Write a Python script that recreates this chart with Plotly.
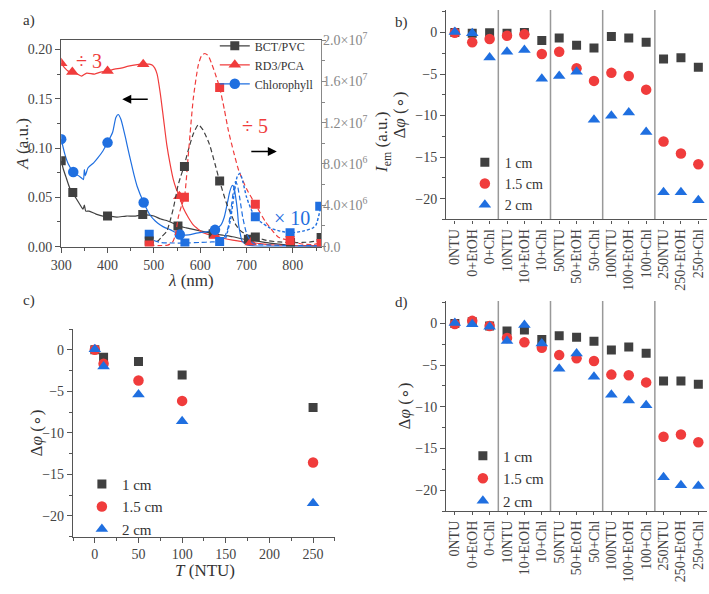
import plotly.graph_objects as go

W, H = 709, 594
FONT = "Liberation Serif, Times New Roman, serif"
GRAY, RED, BLUE = "#404040", "#f03c3c", "#1f6fe0"

# ---------------- Panel a data ----------------
bct_abs_nm = [300, 305, 310, 318, 325, 332, 340, 347, 350, 353, 360, 375, 390, 400, 420, 440, 460, 476, 490, 500, 515, 530, 545, 552, 570, 590, 610, 630, 650, 670, 690, 710, 730, 750, 770, 790, 810, 830, 850, 861]
bct_abs = [0.087, 0.078, 0.071, 0.060, 0.055, 0.049, 0.043, 0.038, 0.042, 0.036, 0.036, 0.033, 0.031, 0.031, 0.030, 0.031, 0.031, 0.0325, 0.032, 0.031, 0.028, 0.026, 0.023, 0.021, 0.019, 0.017, 0.015, 0.013, 0.0115, 0.010, 0.008, 0.0065, 0.005, 0.0035, 0.0025, 0.0015, 0.001, 0.0005, 0.0003, 0.0003]
bct_abs_mk_nm = [300, 325, 400, 476, 552, 628, 704]
bct_abs_mk = [0.087, 0.055, 0.031, 0.0325, 0.021, 0.013, 0.0075]

rd3_abs_nm = [300, 308, 315, 324, 335, 344, 355, 372, 385, 400, 415, 429, 445, 457, 477, 490, 497, 502, 507, 514, 521, 528, 535, 542, 548, 555, 564, 575, 585, 596, 606, 620, 632, 650, 670, 690, 709, 730, 748, 770, 791, 820, 861]
rd3_abs = [0.186, 0.181, 0.178, 0.177, 0.175, 0.173, 0.176, 0.175, 0.177, 0.178, 0.180, 0.181, 0.183, 0.184, 0.185, 0.185, 0.184, 0.181, 0.175, 0.155, 0.129, 0.103, 0.084, 0.068, 0.059, 0.051, 0.0386, 0.029, 0.022, 0.0175, 0.014, 0.012, 0.0108, 0.0085, 0.0065, 0.005, 0.0042, 0.003, 0.002, 0.0015, 0.001, 0.001, 0.001]
rd3_abs_mk_nm = [300, 324, 400, 477, 555, 632, 709]
rd3_abs_mk = [0.186, 0.177, 0.178, 0.185, 0.051, 0.0108, 0.0042]

chl_abs_nm = [300, 308, 315, 326, 337, 345, 348, 350, 352, 358, 370, 379, 390, 400, 411, 418, 423, 429, 434, 439, 445, 450, 457, 464, 478, 492, 503, 514, 525, 535, 556, 575, 592, 613, 632, 645, 652, 659, 664, 669, 673, 676, 680, 683, 687, 690, 700, 720, 760, 800, 861]
chl_abs = [0.109, 0.0935, 0.084, 0.0757, 0.072, 0.069, 0.068, 0.078, 0.072, 0.080, 0.085, 0.090, 0.097, 0.1055, 0.116, 0.131, 0.134, 0.129, 0.120, 0.110, 0.097, 0.087, 0.073, 0.061, 0.0448, 0.0318, 0.026, 0.022, 0.019, 0.0172, 0.0123, 0.0118, 0.0137, 0.015, 0.017, 0.022, 0.030, 0.045, 0.056, 0.062, 0.060, 0.052, 0.038, 0.022, 0.012, 0.006, 0.002, 0.0005, 0.0003, 0.0003, 0.0003]
chl_abs_mk_nm = [300, 326, 400, 478, 556, 632]
chl_abs_mk = [0.109, 0.0757, 0.1055, 0.0448, 0.0123, 0.017]

bct_em_nm = [490, 500, 510, 518, 528, 535, 542, 548, 552, 558, 565, 574, 585, 596, 606, 620, 632, 642, 656, 666, 677, 688, 698, 710, 719, 735, 748, 770, 795, 820, 845, 861]
bct_em = [0.55e6, 0.4e6, 0.6e6, 1.0e6, 1.5e6, 2.5e6, 3.7e6, 5.0e6, 5.9e6, 6.8e6, 7.75e6, 9.3e6, 10.9e6, 11.8e6, 11.3e6, 9.9e6, 8.0e6, 6.35e6, 4.3e6, 3.2e6, 2.1e6, 1.5e6, 1.2e6, 1.0e6, 0.94e6, 0.7e6, 0.56e6, 0.45e6, 0.4e6, 0.4e6, 0.5e6, 0.875e6]
bct_em_mk_nm = [490, 566, 642, 719, 795, 861]
bct_em_mk = [0.55e6, 7.75e6, 6.35e6, 0.94e6, 0.4e6, 0.875e6]

rd3_em_nm = [490, 510, 530, 540, 546, 553, 560, 566, 574, 585, 596, 603, 610, 617, 624, 632, 642, 652, 661, 672, 683, 700, 719, 741, 755, 769, 794, 819, 840, 861]
rd3_em = [0.15e6, 0.1e6, 0.15e6, 0.4e6, 1.06e6, 2.9e6, 4.0e6, 4.78e6, 8.7e6, 14.3e6, 17.6e6, 18.5e6, 18.7e6, 18.5e6, 17.8e6, 16.8e6, 15.4e6, 13.3e6, 11.2e6, 9.2e6, 7.4e6, 5.6e6, 4.1e6, 2.4e6, 1.6e6, 0.9e6, 0.56e6, 0.25e6, 0.2e6, 0.31e6]
rd3_em_mk_nm = [490, 566, 642, 719, 794, 861]
rd3_em_mk = [0.15e6, 4.78e6, 15.4e6, 4.1e6, 0.6e6, 0.31e6]

chl_em_nm = [490, 500, 515, 540, 567, 600, 625, 642, 652, 660, 667, 672, 676, 680, 685, 692, 700, 708, 715, 725, 750, 800, 861]
chl_em = [1.2e6, 0.6e6, 0.4e6, 0.35e6, 0.35e6, 0.4e6, 0.45e6, 0.5e6, 0.9e6, 1.8e6, 3.8e6, 5.5e6, 6.3e6, 6.0e6, 4.8e6, 2.8e6, 1.3e6, 0.6e6, 0.3e6, 0.2e6, 0.15e6, 0.1e6, 0.1e6]
chl_em_mk_nm = [490, 567, 642]
chl_em_mk = [1.2e6, 0.35e6, 0.5e6]

chl_em10_nm = [655, 665, 673, 680, 686, 692, 700, 710, 719, 730, 751, 773, 794, 822, 843, 850, 857, 861]
chl_em10 = [0.8e6, 2.5e6, 5.0e6, 6.8e6, 7.1e6, 6.3e6, 4.8e6, 3.6e6, 2.9e6, 2.4e6, 1.8e6, 1.5e6, 1.34e6, 1.5e6, 1.8e6, 2.1e6, 3.2e6, 4.0e6]
chl_em10_mk_nm = [719, 794, 858]
chl_em10_mk = [2.9e6, 1.34e6, 3.9e6]

nm_ticks = [300, 400, 500, 600, 700, 800]
em_tickvals = [0, 4e6, 8e6, 1.2e7, 1.6e7, 2.0e7]
em_ticktext = ["0.0", "4.0×10<sup>6</sup>", "8.0×10<sup>6</sup>", "1.2×10<sup>7</sup>", "1.6×10<sup>7</sup>", "2.0×10<sup>7</sup>"]

# ---------------- Panels b, d data ----------------
categories = ["0NTU", "0+EtOH", "0+Chl", "10NTU", "10+EtOH", "10+Chl", "50NTU", "50+EtOH", "50+Chl",
              "100NTU", "100+EtOH", "100+Chl", "250NTU", "250+EtOH", "250+Chl"]
b_1cm = [0, -0.1, -0.05, -0.1, 0, -0.97, -0.66, -1.55, -1.86, -0.5, -0.66, -1.17, -3.19, -3.03, -4.2]
b_15cm = [-0.05, -1.17, -0.78, -0.39, -0.23, -2.6, -2.33, -4.31, -5.83, -4.86, -5.24, -6.88, -13.13, -14.57, -15.85]
b_2cm = [0.05, -0.1, -3.0, -2.33, -2.1, -5.56, -5.24, -4.74, -10.49, -10.02, -9.63, -11.97, -19.23, -19.23, -20.2]

d_1cm = [0, 0.2, -0.3, -0.9, -0.78, -1.94, -1.48, -1.67, -2.14, -3.18, -2.83, -3.57, -6.91, -6.91, -7.3]
d_15cm = [-0.08, 0.31, -0.3, -1.75, -2.25, -2.91, -3.8, -4.19, -4.5, -6.14, -6.21, -7.07, -13.6, -13.32, -14.25]
d_2cm = [0.05, -0.1, -0.4, -2.1, -0.2, -2.4, -5.44, -3.6, -6.4, -8.54, -9.24, -9.8, -18.45, -19.4, -19.5]

# ---------------- Panel c data ----------------
turbidity = [0, 10, 50, 100, 250]
c_1cm = [0, -0.9, -1.4, -3.04, -6.94]
c_15cm = [0, -1.68, -3.7, -6.16, -13.57]
c_2cm = [0.05, -2.0, -5.4, -8.6, -18.5]

series_names = ["1 cm", "1.5 cm", "2 cm"]
series_colors = [GRAY, RED, BLUE]
series_symbols = ["square", "circle", "triangle-up"]
series_sizes = [9, 10.5, 11]

def px(X):
    return X / W

def py(Y):
    return 1 - Y / H

fig = go.Figure()

# ---- Panel a traces ----
def line(x, y, color, yaxis="y", dash="solid", width=1.2):
    fig.add_trace(go.Scatter(x=x, y=y, mode="lines", xaxis="x", yaxis=yaxis, showlegend=False,
                             line=dict(color=color, width=width, dash=dash, shape="spline", smoothing=0.6),
                             hoverinfo="skip"))

def marks(x, y, color, symbol, size, yaxis="y"):
    fig.add_trace(go.Scatter(x=x, y=y, mode="markers", xaxis="x", yaxis=yaxis, showlegend=False,
                             marker=dict(color=color, symbol=symbol, size=size, line=dict(width=0)),
                             hoverinfo="skip"))

line(bct_em_nm, bct_em, GRAY, "y2", "5px,3px")
line(rd3_em_nm, rd3_em, RED, "y2", "5px,3px")
line(chl_em_nm, chl_em, BLUE, "y2", "5px,3px")
line(chl_em10_nm, chl_em10, BLUE, "y2", "3px,2px", 1.4)
line(bct_abs_nm, bct_abs, GRAY)
line(rd3_abs_nm, rd3_abs, RED)
line(chl_abs_nm, chl_abs, BLUE)
marks(chl_em_mk_nm, chl_em_mk, BLUE, "square", 9, "y2")
marks(chl_em10_mk_nm, chl_em10_mk, BLUE, "square", 9, "y2")
marks(bct_em_mk_nm, bct_em_mk, GRAY, "square", 9, "y2")
marks(rd3_em_mk_nm, rd3_em_mk, RED, "square", 9, "y2")
marks(bct_abs_mk_nm, bct_abs_mk, GRAY, "square", 9)
marks(rd3_abs_mk_nm, rd3_abs_mk, RED, "triangle-up", 11)
marks(chl_abs_mk_nm, chl_abs_mk, BLUE, "circle", 10.5)

for name, color, sym, size in [("BCT/PVC", GRAY, "square", 9), ("RD3/PCA", RED, "triangle-up", 11),
                               ("Chlorophyll", BLUE, "circle", 10.5)]:
    fig.add_trace(go.Scatter(x=[None], y=[None], mode="lines+markers", name=name, xaxis="x", yaxis="y",
                             line=dict(color=color, width=1.2), marker=dict(color=color, symbol=sym, size=size),
                             legend="legend"))

# ---- Panels b, c, d ----
for ax, xs, sets, leg in [("3", categories, (b_1cm, b_15cm, b_2cm), "legend2"),
                          ("4", turbidity, (c_1cm, c_15cm, c_2cm), "legend3"),
                          ("5", categories, (d_1cm, d_15cm, d_2cm), "legend4")]:
    for vals, name, color, sym, size in zip(sets, series_names, series_colors, series_symbols, series_sizes):
        fig.add_trace(go.Scatter(x=xs, y=vals, mode="markers", name=name, xaxis="x" + ax, yaxis="y" + ax,
                                 marker=dict(color=color, symbol=sym, size=size, line=dict(width=0)),
                                 legend=leg, hoverinfo="skip"))

tickfont = dict(family=FONT, size=14, color="#444")
axcol = "#555"

common = dict(showgrid=False, zeroline=False, showline=True, linecolor=axcol, linewidth=1.2,
              ticks="outside", ticklen=5, tickcolor=axcol, tickwidth=1.2, tickfont=tickfont)

layout = dict(
    width=W, height=H, autosize=False, margin=dict(l=0, r=0, t=0, b=0),
    plot_bgcolor="white", paper_bgcolor="white", showlegend=True,
    xaxis=dict(domain=[px(51), px(315)], anchor="y", range=[300, 861], tickvals=nm_ticks,
               minor=dict(dtick=50, ticks="outside", ticklen=3, tickcolor=axcol), mirror=True, **common),
    xaxis2=dict(overlaying="x", side="top", anchor="y", range=[300, 861], tickvals=nm_ticks,
                showticklabels=False, showgrid=False, zeroline=False, showline=False,
                ticks="inside", ticklen=5, tickcolor=axcol, tickwidth=1.2,
                minor=dict(dtick=50, ticks="inside", ticklen=3, tickcolor=axcol)),
    yaxis=dict(domain=[py(244), py(31)], anchor="x", range=[0, 0.2095], dtick=0.05, tickformat=".2f",
               minor=dict(dtick=0.025, ticks="outside", ticklen=3, tickcolor=axcol), **common),
    yaxis2=dict(overlaying="y", side="right", anchor="x", range=[0, 2.0e7], tickvals=em_tickvals,
                ticktext=em_ticktext, showgrid=False, zeroline=False, showline=True, linecolor="#888",
                linewidth=1.2, ticks="outside", ticklen=4, tickcolor="#888", ticklabelstandoff=-6,
                minor=dict(tickvals=[2e6, 6e6, 1e7, 1.4e7, 1.8e7], ticks="outside", ticklen=3, tickcolor="#888"),
                tickfont=dict(family=FONT, size=14, color="#888")),
    xaxis3=dict(domain=[px(442), px(707)], anchor="y3", type="category", range=[-0.5, 14.5],
                tickangle=-90, **{**common, "ticklen": 3}),
    yaxis3=dict(domain=[py(216), py(0)], anchor="x3", range=[-22.5, 2.7], dtick=5,
                minor=dict(dtick=2.5, ticks="outside", ticklen=3, tickcolor=axcol), **common),
    xaxis4=dict(domain=[px(63), px(329)], anchor="y4", range=[-25, 275], dtick=50,
                minor=dict(dtick=25, ticks="outside", ticklen=3, tickcolor=axcol), **common),
    yaxis4=dict(domain=[py(543), py(329)], anchor="x4", range=[-22.5, 2.5], dtick=5,
                minor=dict(dtick=2.5, ticks="outside", ticklen=3, tickcolor=axcol), **common),
    xaxis5=dict(domain=[px(442), px(707)], anchor="y5", type="category", range=[-0.5, 14.5],
                tickangle=-90, **{**common, "ticklen": 3}),
    yaxis5=dict(domain=[py(516.7), py(300)], anchor="x5", range=[-22.5, 2.7], dtick=5,
                minor=dict(dtick=2.5, ticks="outside", ticklen=3, tickcolor=axcol), **common),
    legend=dict(x=px(207), y=py(22), xanchor="left", yanchor="top", bgcolor="rgba(0,0,0,0)",
                font=dict(family=FONT, size=12, color="#333"), tracegroupgap=0),
    legend2=dict(x=px(461), y=py(141), xanchor="left", yanchor="top", bgcolor="rgba(0,0,0,0)",
                 font=dict(family=FONT, size=14, color="#333")),
    legend3=dict(x=px(72), y=py(472), xanchor="left", yanchor="top", bgcolor="rgba(0,0,0,0)",
                 font=dict(family=FONT, size=15, color="#333")),
    legend4=dict(x=px(459), y=py(443), xanchor="left", yanchor="top", bgcolor="rgba(0,0,0,0)",
                 font=dict(family=FONT, size=15, color="#333")),
)
fig.update_layout(**layout)

# separators in b and d
for ax in ["3", "5"]:
    for xs in [2.5, 5.5, 8.5, 11.5]:
        fig.add_shape(type="line", xref="x" + ax, yref="y" + ax + " domain", x0=xs, x1=xs, y0=0, y1=1,
                      line=dict(color="#999", width=1.5), layer="below")

ann = []
def text(X, Y, s, size=17, color="#333", angle=0):
    ann.append(dict(x=px(X), y=py(Y), xref="paper", yref="paper", text=s, showarrow=False,
                    textangle=angle, font=dict(family=FONT, size=size, color=color),
                    xanchor="center", yanchor="middle"))

text(18, 11, "a)", 15)
text(397, 13, "b)", 15)
text(18, 300, "c)", 15)
text(397, 302, "d)", 15)
text(183, 279, "<i>λ</i> (nm)")
text(12, 138, "<i>A</i> (a.u.)", angle=-90)
text(378, 137, "<i>I</i><sub>em</sub> (a.u.)", angle=-90)
text(395, 108, "Δ<i>φ</i> (∘)", angle=-90)
text(26, 436, "Δ<i>φ</i> (∘)", angle=-90)
text(400, 408, "Δ<i>φ</i> (∘)", angle=-90)
text(197, 578, "<i>T</i> (NTU)")
text(79, 53, "÷ 3", 20, RED)
text(248, 120, "÷ 5", 20, RED)
text(285, 214, "× 10", 20, BLUE)

for hx, tx, y in [(113, 140, 92), (270, 243, 146)]:
    ann.append(dict(x=px(hx), y=py(y), xref="paper", yref="paper", ax=tx - hx, ay=0, axref="pixel",
                    ayref="pixel", text="", showarrow=True, arrowhead=2, arrowsize=1.2, arrowwidth=1.5,
                    arrowcolor="black"))

fig.update_layout(annotations=ann)
fig.write_html("out.html")
